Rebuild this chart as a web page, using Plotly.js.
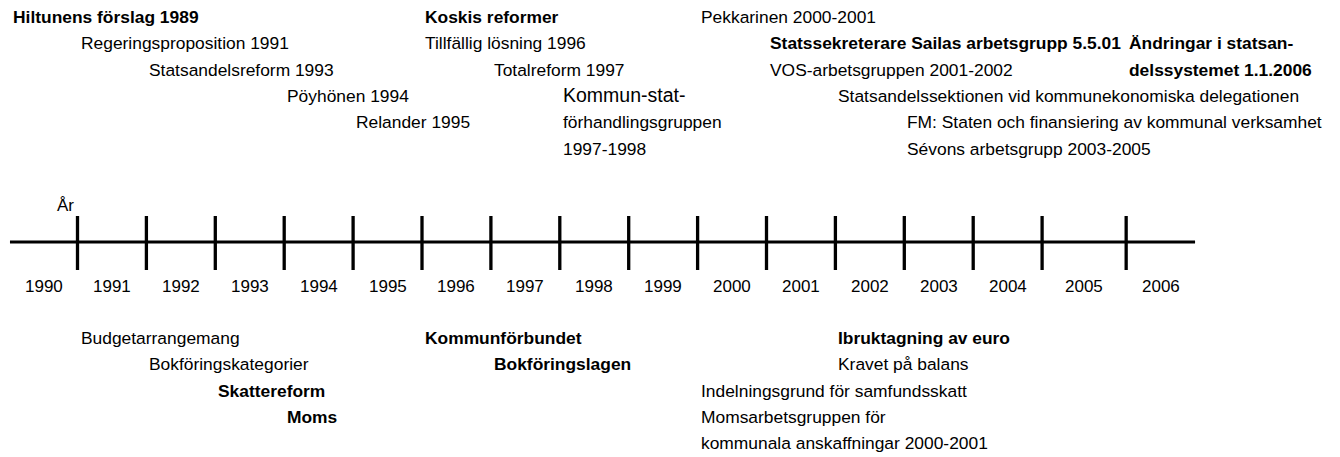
<!DOCTYPE html>
<html><head><meta charset="utf-8">
<script src="https://cdn.plot.ly/plotly-3.0.1.min.js"></script>
<style>html,body{margin:0;padding:0;background:#fff}</style>
</head><body><div id="chart" style="width:1340px;height:457px"></div>
<script>
// Years shown on the timeline
const years = [1990,1991,1992,1993,1994,1995,1996,1997,1998,1999,2000,2001,2002,2003,2004,2005,2006];
// Slot boundaries (line start, tick marks, line end) in year units
const boundaries = [1989.52,1990.5,1991.5,1992.5,1993.5,1994.5,1995.5,1996.5,1997.5,1998.5,1999.5,2000.5,2001.5,2002.5,2003.5,2004.5,2005.72,2006.72];

// Events above the line
const topTexts = [
  "Hiltunens förslag 1989","Koskis reformer","Pekkarinen 2000-2001",
  "Regeringsproposition 1991","Tillfällig lösning 1996","Statssekreterare Sailas arbetsgrupp 5.5.01","Ändringar i statsan-",
  "Statsandelsreform 1993","Totalreform 1997","VOS-arbetsgruppen 2001-2002","delssystemet 1.1.2006",
  "Pöyhönen 1994","Kommun-stat-","Statsandelssektionen vid kommunekonomiska delegationen",
  "Relander 1995","förhandlingsgruppen","FM: Staten och finansiering av kommunal verksamhet",
  "1997-1998","Sévons arbetsgrupp 2003-2005"
];
const topStartYears = [1990,1996,2000, 1991,1996,2001,2006, 1992,1997,2001,2006, 1994,1998,2002, 1995,1998,2003, 1998,2003];
const topRows       = [0,0,0, 1,1,1,1, 2,2,2,2, 3,3,3, 4,4,4, 5,5];
const topBold       = [1,1,0, 0,0,1,1, 0,0,0,1, 0,0,0, 0,0,0, 0,0];
const topLarge      = [0,0,0, 0,0,0,0, 0,0,0,0, 0,1,0, 0,0,0, 0,0];

// Events below the line
const bottomTexts = [
  "Budgetarrangemang","Kommunförbundet","Ibruktagning av euro",
  "Bokföringskategorier","Bokföringslagen","Kravet på balans",
  "Skattereform","Indelningsgrund för samfundsskatt",
  "Moms","Momsarbetsgruppen för",
  "kommunala anskaffningar 2000-2001"
];
const bottomStartYears = [1991,1996,2002, 1992,1997,2002, 1993,2000, 1994,2000, 2000];
const bottomRows       = [0,0,0, 1,1,1, 2,2, 3,3, 4];
const bottomBold       = [0,1,1, 0,1,0, 1,0, 1,0, 0];
const bottomLarge      = [0,0,0, 0,0,0, 0,0, 0,0, 0];

const axisLabel = "År";

// ---- layout constants ----
const PX_PER_YEAR = 68.9;
const X0 = boundaries[1] - 77.5 / PX_PER_YEAR;
const LINE_Y = 242, TICK_TOP = 216, TICK_BOTTOM = 270, YEAR_Y = 286, AXIS_LABEL_Y = 205;
const TOP_Y0 = 17, BOT_Y0 = 338, ROW_H = 26.3;
const FONT = "Liberation Sans, Arial, Helvetica, sans-serif";

const traces = [];
// main line
traces.push({x:[boundaries[0], boundaries[boundaries.length-1]], y:[LINE_Y, LINE_Y], mode:'lines',
  line:{color:'#000', width:3}, hoverinfo:'skip', showlegend:false});
// ticks
const tx = [], ty = [];
for (let i = 1; i < boundaries.length - 1; i++) { tx.push(boundaries[i], boundaries[i], null); ty.push(TICK_TOP, TICK_BOTTOM, null); }
traces.push({x:tx, y:ty, mode:'lines', line:{color:'#000', width:3.3}, hoverinfo:'skip', showlegend:false});

const ann = [];
function startX(y) { return boundaries[years.indexOf(y)]; }
years.forEach((yr, i) => {
  ann.push({x:(boundaries[i] + boundaries[i+1]) / 2, y:YEAR_Y, text:String(yr), showarrow:false,
    xanchor:'center', yanchor:'middle', font:{family:FONT, size:17, color:'#000'}});
});
ann.push({x:boundaries[1], y:AXIS_LABEL_Y, text:axisLabel, showarrow:false, xanchor:'right', yanchor:'middle',
  xshift:-2, font:{family:FONT, size:17, color:'#000'}});
function addEvents(texts, starts, rows, bold, large, y0) {
  texts.forEach((t, i) => {
    ann.push({x:startX(starts[i]), y:y0 + rows[i] * ROW_H - (large[i] ? 1 : 0), text: bold[i] ? '<b>' + t + '</b>' : t,
      showarrow:false, xanchor:'left', yanchor:'middle', xshift:1,
      font:{family:FONT, size: large[i] ? 19.5 : 17.4, color:'#000'}});
  });
}
addEvents(topTexts, topStartYears, topRows, topBold, topLarge, TOP_Y0);
addEvents(bottomTexts, bottomStartYears, bottomRows, bottomBold, bottomLarge, BOT_Y0);

const layout = {
  width:1340, height:457, margin:{l:0, r:0, t:0, b:0},
  paper_bgcolor:'#fff', plot_bgcolor:'#fff', showlegend:false,
  xaxis:{range:[X0, X0 + 1340 / PX_PER_YEAR], visible:false, fixedrange:true},
  yaxis:{range:[457, 0], visible:false, fixedrange:true},
  annotations: ann
};
Plotly.newPlot('chart', traces, layout, {displayModeBar:false, staticPlot:true});
</script></body></html>
